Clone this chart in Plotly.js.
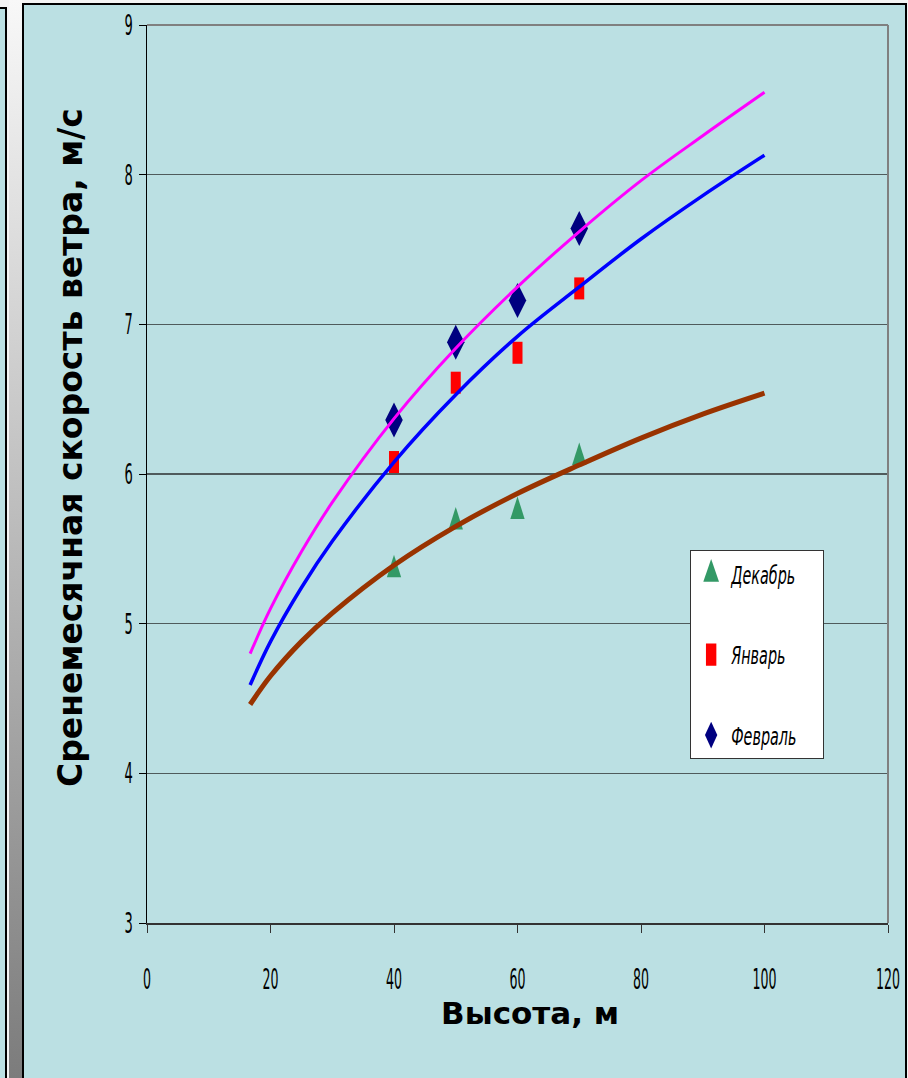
<!DOCTYPE html>
<html>
<head>
<meta charset="utf-8">
<script src="https://cdn.plot.ly/plotly-3.0.1.min.js"></script>
<style>
  html, body { margin: 0; padding: 0; background: #f4f4f4; }
  #wrap { position: relative; width: 908px; height: 1078px; overflow: hidden; background: #f4f4f4; }
  #leftpanel { position: absolute; left: 0; top: 7px; width: 7px; height: 1071px; background: #BBE0E3; border-top: 2px solid #000; border-right: 2px solid #000; box-sizing: border-box; }
  #strip { position: absolute; left: 9px; top: 0; width: 13px; height: 1078px; background: linear-gradient(#f8f8f8, #7c7c7c); }
  #panel { position: absolute; left: 22px; top: 3px; width: 885px; height: 1080px; background: #BBE0E3; border: 2px solid #000; box-sizing: border-box; }
  #chart { position: absolute; left: 0; top: 0; width: 908px; height: 1078px; }
</style>
</head>
<body>
<div id="wrap">
  <div id="leftpanel"></div>
  <div id="strip"></div>
  <div id="panel"></div>
  <div id="chart"></div>
</div>
<script>
// Measured points (height, m)
const heights = [40, 50, 60, 70];
const decValues = [5.36, 5.68, 5.75, 6.11];
const janValues = [6.08, 6.61, 6.81, 7.24];
const febValues = [6.36, 6.88, 7.16, 7.64];

// Trend curves
const trendHeights = [16.7, 20, 25, 30, 40, 50, 60, 70, 80, 90, 100];
const decTrend = [4.46, 4.65, 4.88, 5.07, 5.39, 5.65, 5.87, 6.06, 6.24, 6.40, 6.54];
const janTrend = [4.59, 4.88, 5.24, 5.55, 6.08, 6.53, 6.92, 7.25, 7.57, 7.86, 8.13];
const febTrend = [4.80, 5.10, 5.48, 5.81, 6.37, 6.84, 7.25, 7.62, 7.96, 8.26, 8.55];

const seriesNames = ['Декабрь', 'Январь', 'Февраль'];
const xTickVals = [0, 20, 40, 60, 80, 100, 120];
const yTickVals = [3, 4, 5, 6, 7, 8, 9];
const xTitle = 'Высота, м';
const yTitle = 'Сренемесячная скорость ветра, м/с';

const narrow = '"Liberation Sans Narrow", "Arial Narrow", "DejaVu Sans Condensed", "DejaVu Sans", sans-serif';
const boldFont = '"DejaVu Sans", Verdana, sans-serif';

const traces = [
  {x: heights, y: decValues, name: seriesNames[0], type: 'scatter', mode: 'markers', legendgroup: 'a',
   marker: {symbol: 'triangle-up', size: 20, color: '#339966'}},
  {x: heights, y: janValues, name: seriesNames[1], type: 'scatter', mode: 'markers', legendgroup: 'b',
   marker: {symbol: 'square', size: 20, color: '#FF0000'}},
  {x: heights, y: febValues, name: seriesNames[2], type: 'scatter', mode: 'markers', legendgroup: 'c',
   marker: {symbol: 'diamond-tall', size: 25, color: '#000080'}},
  {x: trendHeights, y: decTrend, type: 'scatter', mode: 'lines', showlegend: false, hoverinfo: 'skip',
   line: {color: '#993300', width: 5, shape: 'spline'}},
  {x: trendHeights, y: janTrend, type: 'scatter', mode: 'lines', showlegend: false, hoverinfo: 'skip',
   line: {color: '#0000FF', width: 3.5, shape: 'spline'}},
  {x: trendHeights, y: febTrend, type: 'scatter', mode: 'lines', showlegend: false, hoverinfo: 'skip',
   line: {color: '#FF00FF', width: 3, shape: 'spline'}}
];

const layout = {
  width: 908, height: 1078,
  margin: {l: 147, r: 20, t: 25, b: 155},
  paper_bgcolor: 'rgba(0,0,0,0)',
  plot_bgcolor: 'rgba(0,0,0,0)',
  showlegend: true,
  xaxis: {
    range: [0, 120], tickvals: xTickVals, ticktext: xTickVals.map(String),
    showgrid: false, zeroline: false,
    showline: true, linecolor: '#333', linewidth: 2,
    ticks: 'outside', ticklen: 8, tickcolor: '#333', tickwidth: 1,
    ticklabelstandoff: 22, ticklabeloverflow: 'allow',
    tickfont: {family: narrow, size: 28, color: '#000'}
  },
  yaxis: {
    range: [3, 9], tickvals: yTickVals, ticktext: yTickVals.map(String),
    showgrid: true, gridcolor: '#4f5b5c', gridwidth: 1.5, zeroline: false,
    showline: true, linecolor: '#000', linewidth: 1.5,
    ticks: 'outside', ticklen: 7, tickcolor: '#000', tickwidth: 1,
    ticklabeloverflow: 'allow',
    tickfont: {family: narrow, size: 29, color: '#000'}
  },
  legend: {
    x: 0.733, y: 0.415, xanchor: 'left', yanchor: 'top',
    bgcolor: '#FFFFFF', bordercolor: '#333', borderwidth: 1,
    tracegroupgap: 45, itemwidth: 30,
    font: {family: narrow, size: 25, color: '#000', style: 'italic'}
  },
  shapes: [
    {type: 'line', xref: 'paper', yref: 'paper', x0: 0, x1: 1, y0: 1, y1: 1, line: {color: '#808080', width: 2}},
    {type: 'line', xref: 'paper', yref: 'paper', x0: 1, x1: 1, y0: 0, y1: 1, line: {color: '#808080', width: 2}}
  ],
  annotations: [
    {text: '<b>' + xTitle + '</b>', xref: 'paper', yref: 'paper', x: 0.517, y: -0.1,
     xanchor: 'center', yanchor: 'middle', showarrow: false,
     font: {family: boldFont, size: 31, color: '#000'}},
    {text: '<b>' + yTitle + '</b>', xref: 'paper', yref: 'paper', x: -0.104, y: 0.530,
     xanchor: 'center', yanchor: 'middle', showarrow: false, textangle: -90,
     font: {family: boldFont, size: 33, color: '#000'}}
  ]
};

function squeeze(gd, selector, factor) {
  gd.querySelectorAll(selector).forEach(function (t) {
    const w = t.getComputedTextLength();
    if (w > 0) {
      t.setAttribute('textLength', (w * factor).toFixed(1));
      t.setAttribute('lengthAdjust', 'spacingAndGlyphs');
    }
  });
}

// Stretch a marker symbol path (tall, narrow markers as in the original chart)
function reshapePath(d, sx, sy) {
  const tokens = d.match(/[MLHVZ]|-?\d*\.?\d+(?:e-?\d+)?/gi) || [];
  let out = '', cmd = '', idx = 0;
  tokens.forEach(function (tk) {
    if (/^[MLHVZ]$/i.test(tk)) { cmd = tk.toUpperCase(); idx = 0; out += tk; return; }
    const v = parseFloat(tk);
    let nv;
    if (cmd === 'H') nv = v * sx;
    else if (cmd === 'V') nv = v * sy;
    else { nv = (idx % 2 === 0) ? v * sx : v * sy; }
    out += (idx > 0 && cmd !== 'H' && cmd !== 'V' && idx % 2 === 1 ? ',' : (idx > 0 ? ' ' : '')) + nv.toFixed(2);
    idx++;
  });
  return out;
}

function reshapeTrace(gd, traceIndex, sx, sy, lsx, lsy) {
  const tr = gd.querySelectorAll('.scatterlayer .trace')[traceIndex];
  if (tr) tr.querySelectorAll('.points path').forEach(function (p) {
    p.setAttribute('d', reshapePath(p.getAttribute('d'), sx, sy));
  });
  const lg = gd.querySelectorAll('.legend .traces')[traceIndex];
  if (lg) lg.querySelectorAll('.legendpoints path').forEach(function (p) {
    p.setAttribute('d', reshapePath(p.getAttribute('d'), lsx, lsy));
  });
}

Plotly.newPlot('chart', traces, layout, {displayModeBar: false, staticPlot: true}).then(function (gd) {
  squeeze(gd, '.xtick text, .ytick text', 0.5);
  squeeze(gd, '.legendtext', 0.64);
  reshapeTrace(gd, 0, 0.62, 1.5, 0.85, 1.9);
  reshapeTrace(gd, 1, 0.5, 1.1, 0.65, 1.4);
  reshapeTrace(gd, 2, 1, 1, 1.1, 1.2);
  // narrow legend box to fit the condensed text
  const bg = gd.querySelector('.legend .bg');
  if (bg) bg.setAttribute('width', '133');
});
</script>
</body>
</html>
